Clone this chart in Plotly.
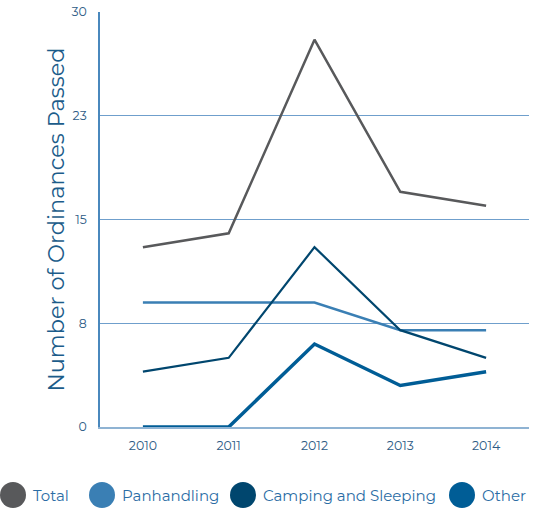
import plotly.graph_objects as go

years = [2010, 2011, 2012, 2013, 2014]
total = [13, 14, 28, 17, 16]
panhandling = [9, 9, 9, 7, 7]
camping = [4, 5, 13, 7, 5]
other = [0, 0, 6, 3, 4]

y_tickvals = [0, 7.5, 15, 22.5, 30]
y_ticktext = ["0", "8", "15", "23", "30"]

series = [
    ("Total", total, "#58595b", 2.5),
    ("Panhandling", panhandling, "#3a7fb4", 2.5),
    ("Camping and Sleeping", camping, "#00466e", 2.2),
    ("Other", other, "#005d96", 3.5),
]

FONT = "Montserrat, Lato, 'Noto Sans', sans-serif"

fig = go.Figure()
for name, vals, color, w in series:
    fig.add_trace(go.Scatter(x=years, y=vals, mode="lines", name=name,
                             line=dict(color=color, width=w), showlegend=False))

# Custom legend (large circles)
legend_pos = [(13, 31), (102, 120), (243, 261), (462, 480)]
W, H = 540, 509
PL, PR, PT, PB = 100, 529, 12, 427
pw, ph = PR - PL, PB - PT
for (cx, tx), (name, vals, color, w) in zip(legend_pos, series):
    r = 13
    cy = 495
    fig.add_shape(type="circle", xref="paper", yref="paper",
                  x0=(cx - r - PL) / pw, x1=(cx + r - PL) / pw,
                  y0=(PB - (cy + r)) / ph, y1=(PB - (cy - r)) / ph,
                  fillcolor=color, line=dict(width=0))
    fig.add_annotation(xref="paper", yref="paper",
                       x=(tx - PL) / pw, y=(PB - cy) / ph,
                       text=name, showarrow=False, xanchor="left", yanchor="middle",
                       font=dict(family=FONT, size=15, color="#2b6da5"))

fig.update_layout(
    width=W, height=H,
    margin=dict(l=PL, r=W - PR, t=PT, b=H - PB, autoexpand=False),
    paper_bgcolor="white", plot_bgcolor="white",
    font=dict(family=FONT),
    xaxis=dict(range=[2009.5, 2014.5], tickvals=years, automargin=False,
               tickfont=dict(size=12.5, color="#2d5b85"),
               showgrid=False, zeroline=False,
               showline=True, linecolor="#8fb3d3", linewidth=2,
               ticks="", ticklabelstandoff=6),
    yaxis=dict(range=[0, 30], tickvals=y_tickvals, ticktext=y_ticktext,
               automargin=False,
               tickfont=dict(size=12.5, color="#2d5b85"),
               showgrid=True, gridcolor="#6f9fcc", gridwidth=1,
               zeroline=False,
               showline=True, linecolor="#4a88bd", linewidth=1.5,
               ticks="", ticklabelstandoff=9,
               title=dict(text="Number of Ordinances Passed",
                          font=dict(size=22.5, color="#1c5c8a"), standoff=1)),
)

fig.write_html("out.html")
